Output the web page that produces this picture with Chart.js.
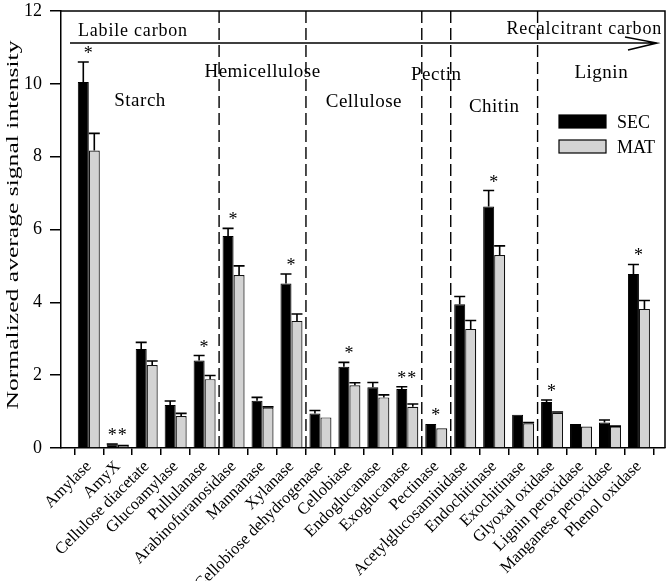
<!DOCTYPE html>
<html>
<head>
<meta charset="utf-8">
<script src="https://cdn.jsdelivr.net/npm/chart.js@4.4.1/dist/chart.umd.min.js"></script>
<style>
html,body{margin:0;padding:0;background:#fff;}
#wrap{width:672px;height:581px;position:relative;}
</style>
</head>
<body>
<div id="wrap"><canvas id="chart"></canvas></div>
<script>
const enzymes = ['Amylase','AmyX','Cellulose diacetate','Glucoamylase','Pullulanase',
  'Arabinofuranosidase','Mannanase','Xylanase','Cellobiose dehydrogenase','Cellobiase',
  'Endoglucanase','Exoglucanase','Pectinase','Acetylglucosaminidase','Endochitinase',
  'Exochitinase','Glyoxal oxidase','Lignin peroxidase','Manganese peroxidase','Phenol oxidase'];

const secMean = [10.05, 0.10, 2.72, 1.18, 2.40, 5.82, 1.30, 4.52, 0.95, 2.23,
  1.67, 1.62, 0.66, 3.95, 6.63, 0.91, 1.26, 0.66, 0.70, 4.78];
const secErr = [0.55, 0.01, 0.18, 0.11, 0.14, 0.21, 0.09, 0.26, 0.08, 0.12,
  0.13, 0.06, 0, 0.21, 0.44, 0, 0.06, 0, 0.07, 0.26];

const matMean = [8.17, 0.06, 2.28, 0.88, 1.89, 4.75, 1.11, 3.49, 0.84, 1.72,
  1.39, 1.13, 0.54, 3.27, 5.30, 0.68, 0.97, 0.59, 0.59, 3.82];
const matErr = [0.47, 0.01, 0.11, 0.07, 0.10, 0.25, 0.02, 0.19, 0, 0.07,
  0.07, 0.08, 0, 0.23, 0.25, 0.02, 0.02, 0, 0.01, 0.23];

const signif = ['*','**','','','*','*','','*','','*','','**','*','','*','','*','','','*'];

// substrate groups: name and the last enzyme (1-based) in each group
const sections = ['Starch','Hemicellulose','Cellulose','Pectin','Chitin','Lignin'];
const sectionEnd = [5, 8, 12, 13, 16, 20];
const sectionBaseline = [106, 77, 107, 80, 112, 78];

const serif = "'Liberation Serif','Times New Roman',serif";

const overlay = {
  id: 'overlay',
  afterDatasetsDraw(chart) {
    const ctx = chart.ctx;
    const a = chart.chartArea;
    const x = chart.scales.x, y = chart.scales.y;
    ctx.save();
    ctx.strokeStyle = '#000';
    ctx.fillStyle = '#000';

    // error bars (upper only)
    [[secMean, secErr], [matMean, matErr]].forEach(([means, errs], d) => {
      chart.getDatasetMeta(d).data.forEach((bar, i) => {
        if (!errs[i]) return;
        const top = y.getPixelForValue(means[i] + errs[i]);
        const hw = bar.width / 2;
        ctx.lineWidth = 1.6;
        ctx.beginPath();
        ctx.moveTo(bar.x, bar.y);
        ctx.lineTo(bar.x, top);
        ctx.moveTo(bar.x - hw, top);
        ctx.lineTo(bar.x + hw, top);
        ctx.stroke();
      });
    });

    // significance marks
    ctx.font = '18px ' + serif;
    ctx.textAlign = 'center';
    ctx.textBaseline = 'alphabetic';
    ctx.letterSpacing = '1px';
    signif.forEach((s, i) => {
      if (!s) return;
      const top = Math.min(y.getPixelForValue(secMean[i] + secErr[i]), y.getPixelForValue(matMean[i] + matErr[i]));
      ctx.fillText(s, x.getPixelForValue(i + 1), top - 3);
    });

    // frame top and right
    ctx.lineWidth = 1.5;
    ctx.beginPath();
    ctx.moveTo(a.left, a.top);
    ctx.lineTo(a.right, a.top);
    ctx.lineTo(a.right, a.bottom);
    ctx.stroke();

    // dashed group dividers
    ctx.setLineDash([12, 5]);
    ctx.lineWidth = 1.4;
    sectionEnd.slice(0, -1).forEach(e => {
      const px = x.getPixelForValue(e + 0.5);
      ctx.beginPath();
      ctx.moveTo(px, a.top);
      ctx.lineTo(px, a.bottom);
      ctx.stroke();
    });
    ctx.setLineDash([]);

    // group labels
    ctx.font = '19px ' + serif;
    ctx.letterSpacing = '0.5px';
    sections.forEach((name, k) => {
      const from = k ? sectionEnd[k - 1] + 0.5 : x.min;
      const to = k < sections.length - 1 ? sectionEnd[k] + 0.5 : x.max;
      const cx = (x.getPixelForValue(from) + x.getPixelForValue(to)) / 2;
      ctx.fillText(name, cx, sectionBaseline[k]);
    });

    // labile -> recalcitrant arrow
    const ay = a.top + 32;
    ctx.lineWidth = 1.5;
    ctx.beginPath();
    ctx.moveTo(a.left + 9, ay);
    ctx.lineTo(a.right - 8, ay);
    ctx.moveTo(a.right - 40, ay - 6);
    ctx.lineTo(a.right - 8, ay);
    ctx.lineTo(a.right - 37, ay + 7);
    ctx.stroke();

    ctx.font = '18px ' + serif;
    ctx.letterSpacing = '0.8px';
    ctx.textAlign = 'left';
    ctx.fillText('Labile carbon', a.left + 17, 36);
    ctx.textAlign = 'right';
    ctx.fillText('Recalcitrant carbon', a.right - 3, 34);

    // legend
    const legend = [['SEC', '#000'], ['MAT', '#d3d3d3']];
    ctx.letterSpacing = '0px';
    ctx.textAlign = 'left';
    legend.forEach(([label, color], k) => {
      const top = 115 + k * 25;
      ctx.fillStyle = color;
      ctx.fillRect(559, top, 47, 13);
      ctx.lineWidth = 1.2;
      ctx.strokeRect(559, top, 47, 13);
      ctx.fillStyle = '#000';
      ctx.fillText(label, 617, top + 12.5);
    });

    // y axis title, stretched along its length like the original
    ctx.font = '16px ' + serif;
    ctx.textAlign = 'center';
    ctx.textBaseline = 'middle';
    ctx.translate(14, 225);
    ctx.rotate(-Math.PI / 2);
    ctx.scale(1.6, 1);
    ctx.fillText('Normalized average signal intensity', 0, 0);
    ctx.restore();
  }
};

new Chart(document.getElementById('chart'), {
  type: 'bar',
  data: {
    datasets: [
      { label: 'SEC', data: secMean.map((v, i) => ({ x: i + 1, y: v })),
        backgroundColor: '#000', borderColor: '#000', borderWidth: 1 },
      { label: 'MAT', data: matMean.map((v, i) => ({ x: i + 1, y: v })),
        backgroundColor: '#d3d3d3', borderColor: '#111', borderWidth: 1.2 }
    ]
  },
  options: {
    responsive: true,
    maintainAspectRatio: false,
    animation: false,
    categoryPercentage: 0.76,
    barPercentage: 1.0,
    layout: { padding: { top: 11, right: 7, left: 0, bottom: 0 } },
    plugins: { legend: { display: false }, tooltip: { enabled: false } },
    scales: {
      x: {
        type: 'linear', min: 0.04, max: 20.9, offset: false,
        afterBuildTicks: s => { s.ticks = enzymes.map((_, i) => ({ value: i + 1 })); },
        afterFit: s => { s.height = 133; },
        ticks: {
          autoSkip: false, maxRotation: 45, minRotation: 45, padding: 2,
          color: '#000', font: { family: serif, size: 16.5 },
          callback: v => enzymes[v - 1]
        },
        grid: { drawOnChartArea: false, tickLength: 7, color: '#000', lineWidth: 1.5 },
        border: { color: '#000', width: 1.5 }
      },
      y: {
        min: 0, max: 12,
        afterFit: s => { s.width = 61; s.paddingTop = 0; s.paddingBottom = 0; },
        ticks: { stepSize: 2, color: '#000', font: { family: serif, size: 18 }, padding: 8 },
        grid: { drawOnChartArea: false, tickLength: 11, color: '#000', lineWidth: 1.5 },
        border: { color: '#000', width: 1.5 }
      }
    }
  },
  plugins: [overlay]
});
</script>
</body>
</html>
